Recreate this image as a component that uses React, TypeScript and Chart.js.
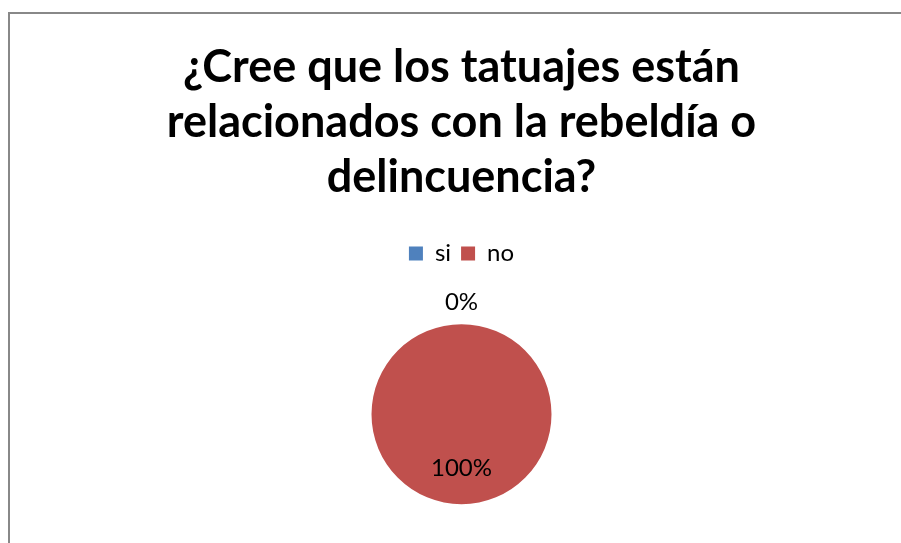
import React, { useEffect, useRef } from "react";
import { Chart, registerables } from "chart.js";

Chart.register(...registerables);

const categories = ["si", "no"];
const values = [0, 100];
const colors = ["#4F81BD", "#C0504D"];
const titleLines = ["¿Cree que los tatuajes están", "relacionados con la rebeldía o", "delincuencia?"];

const pieLabels = {
  id: "pieLabels",
  afterDatasetsDraw(chart: any) {
    const ctx = chart.ctx;
    const meta = chart.getDatasetMeta(0);
    const data = chart.data.datasets[0].data as number[];
    const total = data.reduce((a, b) => a + b, 0);
    ctx.save();
    ctx.font = "24px Lato";
    ctx.fillStyle = "#000000";
    ctx.textAlign = "center";
    ctx.textBaseline = "middle";
    meta.data.forEach((arc: any, i: number) => {
      const p = arc.getProps(["x", "y", "startAngle", "endAngle", "outerRadius"], true);
      const mid = (p.startAngle + p.endAngle) / 2;
      const v = data[i];
      const r = v === 0 ? p.outerRadius + 22 : p.outerRadius * 0.6;
      const pct = Math.round((v / total) * 100) + "%";
      ctx.fillText(pct, p.x + Math.cos(mid) * r, p.y + Math.sin(mid) * r);
    });
    ctx.restore();
  },
};

export default function App() {
  const ref = useRef<HTMLCanvasElement>(null);
  useEffect(() => {
    if (!ref.current) return;
    const chart = new Chart(ref.current, {
      type: "pie",
      data: {
        labels: categories,
        datasets: [
          {
            data: values,
            backgroundColor: colors,
            borderWidth: 0,
            radius: 90,
          },
        ],
      },
      options: {
        responsive: false,
        animation: false,
        layout: { padding: { left: 22, top: 0, right: 0, bottom: 0 } },
        plugins: {
          title: {
            display: true,
            text: titleLines,
            color: "#000000",
            font: { family: "Lato", size: 45, weight: "bold", lineHeight: 1.225 },
            padding: { top: 40, bottom: 26 },
          },
          legend: {
            display: true,
            position: "top",
            labels: {
              boxWidth: 14,
              boxHeight: 14,
              padding: 10,
              color: "#000000",
              font: { family: "Lato", size: 24 },
            },
          },
          tooltip: { enabled: false },
        },
      },
      plugins: [pieLabels],
    });
    return () => chart.destroy();
  }, []);
  return (
    <div
      style={{
        position: "fixed",
        left: 0,
        top: 0,
        width: 901,
        height: 543,
        overflow: "hidden",
        background: "#ffffff",
      }}
    >
      <div
        style={{
          position: "absolute",
          left: 8,
          top: 12,
          width: 2000,
          height: 2000,
          borderTop: "2px solid #888888",
          borderLeft: "2px solid #888888",
        }}
      />
      <canvas
        ref={ref}
        width={901}
        height={553}
        style={{ position: "absolute", left: 0, top: 0, width: 901, height: 553 }}
      />
    </div>
  );
}
